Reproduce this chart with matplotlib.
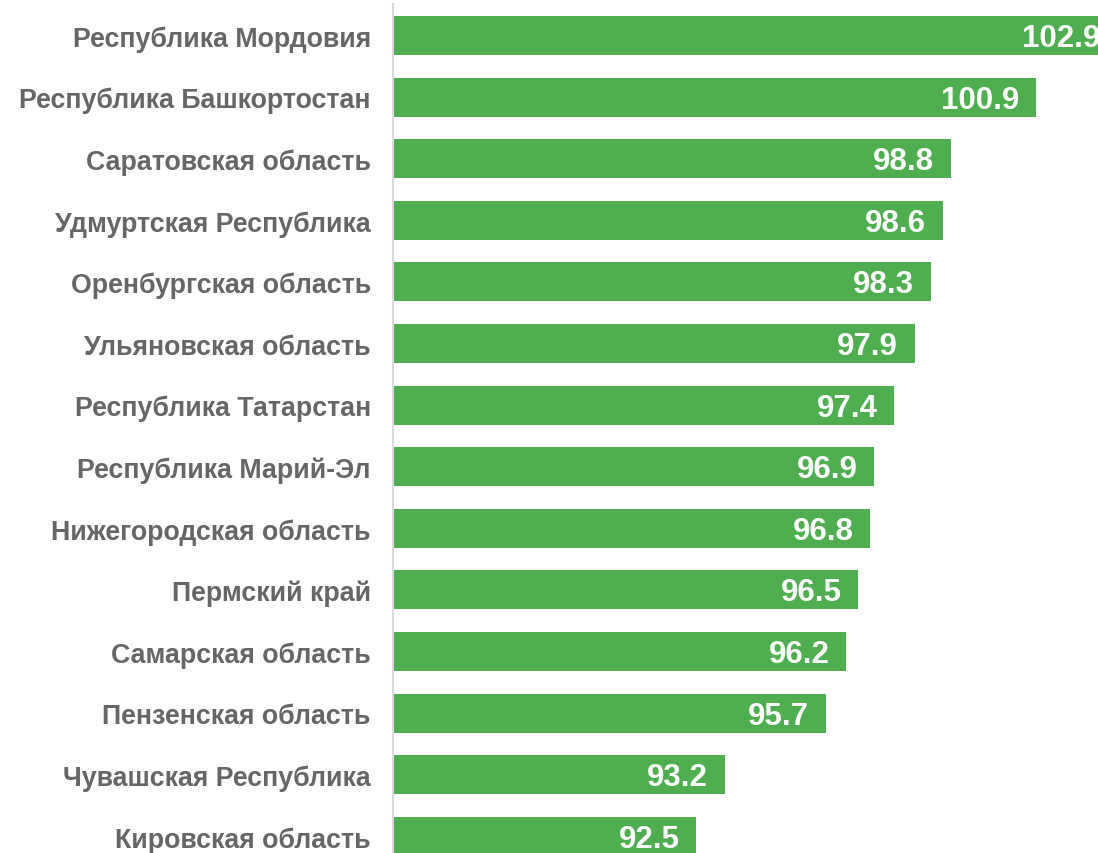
import matplotlib.pyplot as plt

regions = [
    'Республика Мордовия',
    'Республика Башкортостан',
    'Саратовская область',
    'Удмуртская Республика',
    'Оренбургская область',
    'Ульяновская область',
    'Республика Татарстан',
    'Республика Марий-Эл',
    'Нижегородская область',
    'Пермский край',
    'Самарская область',
    'Пензенская область',
    'Чувашская Республика',
    'Кировская область',
]
values = [102.9, 100.9, 98.8, 98.6, 98.3, 97.9, 97.4, 96.9, 96.8, 96.5, 96.2, 95.7, 93.2, 92.5]

plt.rcParams['font.family'] = ['Liberation Sans', 'DejaVu Sans']

fig = plt.figure(figsize=(10.98, 8.54), dpi=100)
ax = fig.add_axes([393 / 1098, 0, (1098 - 393) / 1098, 849 / 854])

pos = list(range(len(regions)))
ax.barh(pos, values, height=0.633, color='#4EAE50')

for p, v in zip(pos, values):
    ax.annotate(f'{v:.1f}', xy=(v, p), xytext=(-12, -1.8), textcoords='offset points',
                ha='right', va='center', color='white', fontsize=22.5, fontweight='bold',
                annotation_clip=False)

ax.set_xlim(85, 85 + 705 / 40.44)
ax.set_ylim(13.27, -0.511)
ax.set_yticks(pos)
ax.set_yticklabels(regions, fontsize=19.3, fontweight='bold', color='#666666')
ax.tick_params(axis='y', length=0, pad=16)
ax.set_xticks([])
for s in ['top', 'right', 'bottom']:
    ax.spines[s].set_visible(False)
ax.spines['left'].set_color('#d9d9d9')
ax.spines['left'].set_linewidth(1.5)

fig.savefig('out.png', dpi=100)
